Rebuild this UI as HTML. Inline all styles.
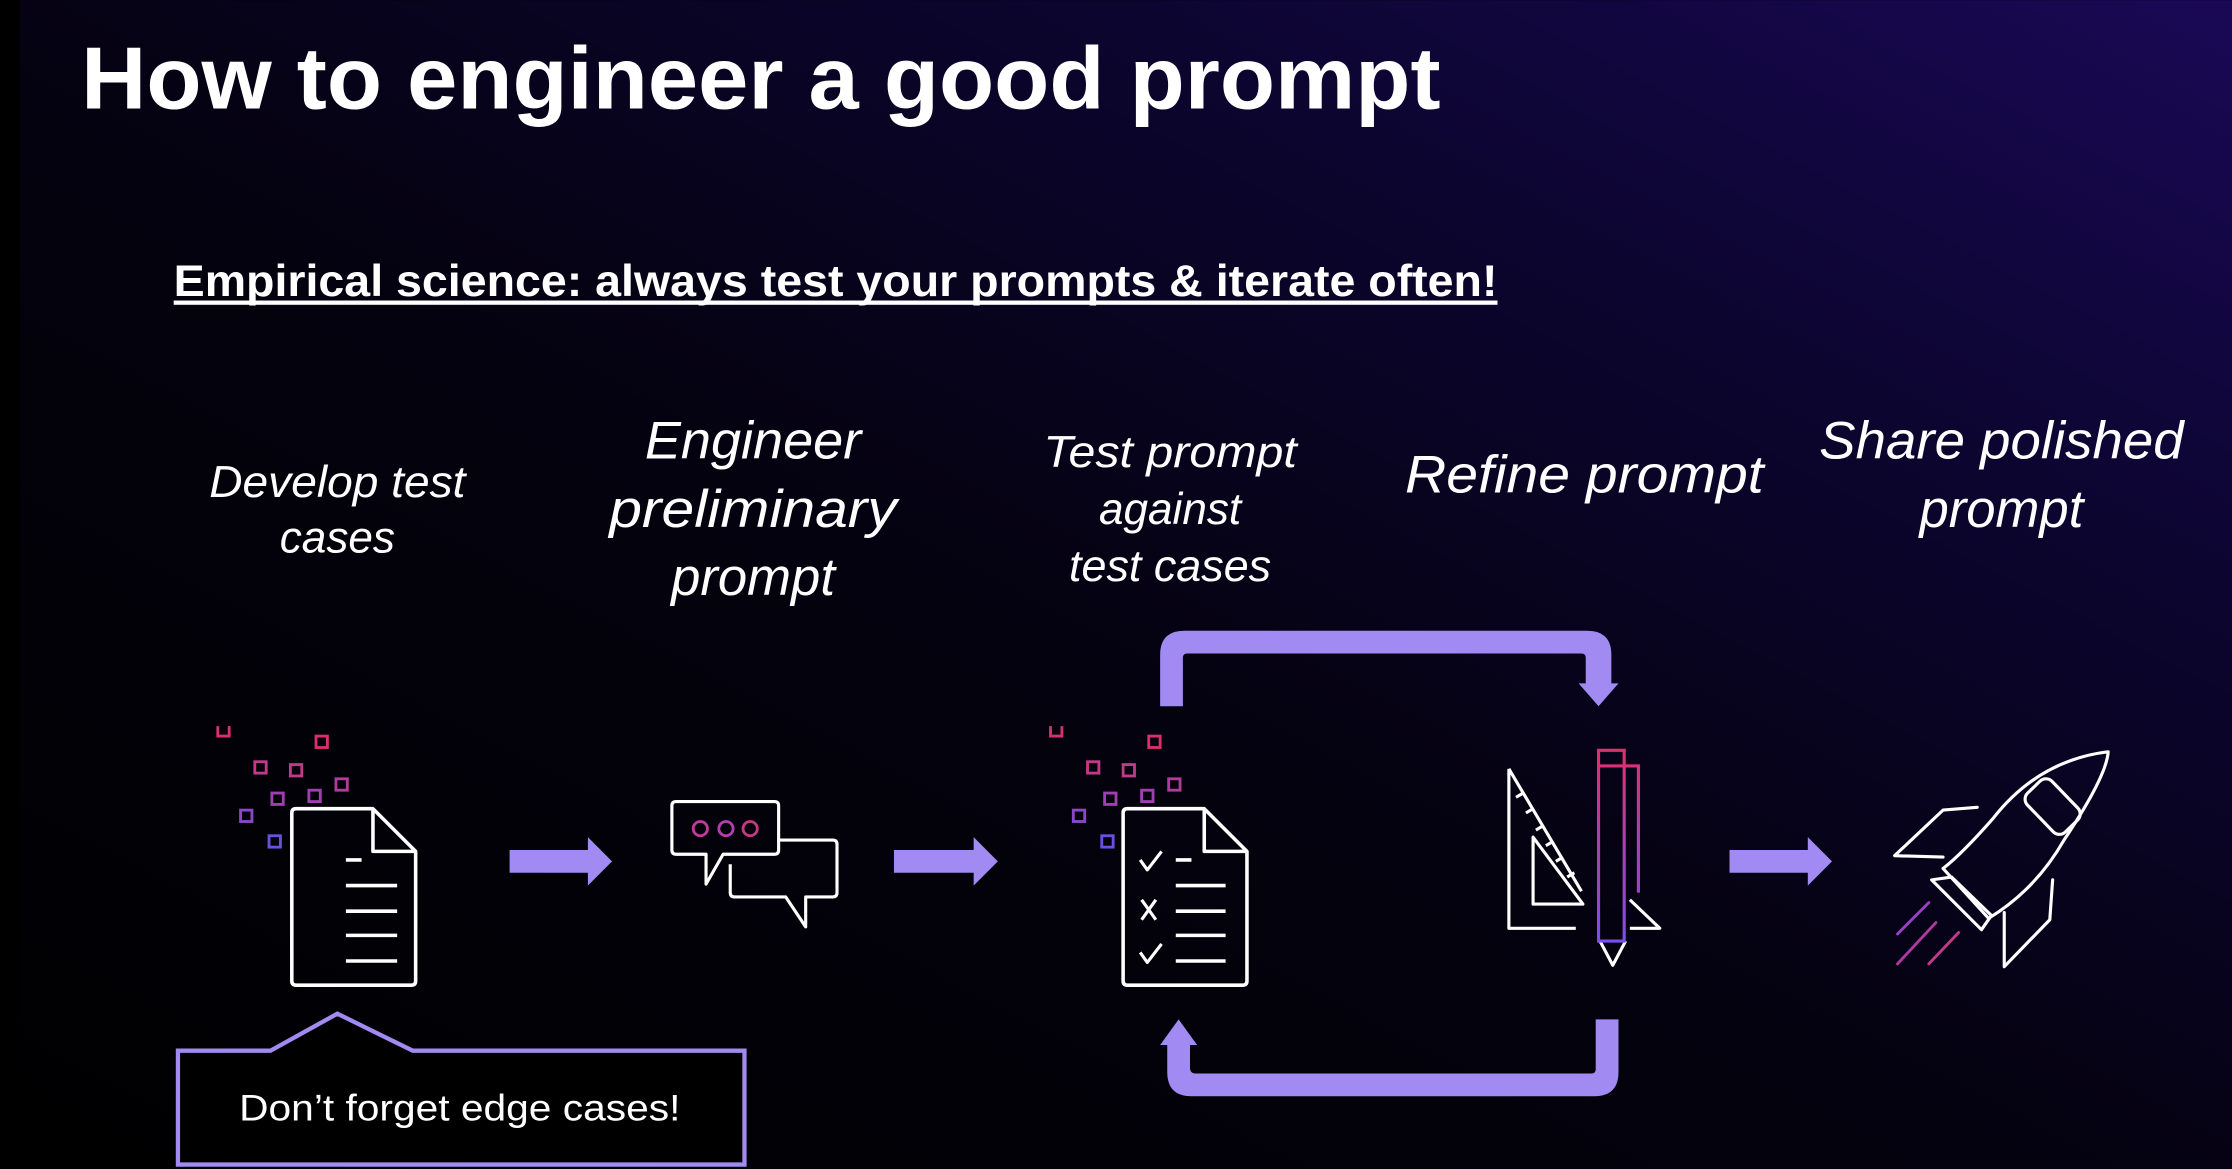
<!DOCTYPE html>
<html><head><meta charset="utf-8"><style>
html,body{margin:0;padding:0;background:#000;}
svg{display:block}
text{font-family:"Liberation Sans",sans-serif;fill:#fff}
</style></head><body>
<svg width="2232" height="1169" viewBox="0 0 1568 821" xmlns="http://www.w3.org/2000/svg">
<defs>
<linearGradient id="bg" x1="0" y1="1" x2="1" y2="0">
<stop offset="0" stop-color="#000000"/>
<stop offset="0.45" stop-color="#04020e"/>
<stop offset="0.75" stop-color="#0c0530"/>
<stop offset="1" stop-color="#1a0856"/>
</linearGradient>
<linearGradient id="pg" x1="0" y1="0" x2="0" y2="1">
<stop offset="0" stop-color="#e0306a"/><stop offset="1" stop-color="#7a4ff0"/>
</linearGradient>
</defs>
<rect width="1568" height="821" fill="url(#bg)"/>
<rect width="14" height="821" fill="#000"/>

<text x="57" y="76" font-size="62" font-weight="bold" textLength="955" lengthAdjust="spacingAndGlyphs">How to engineer a good prompt</text>
<text x="122" y="208" font-size="31" font-weight="bold" textLength="930" lengthAdjust="spacingAndGlyphs">Empirical science: always test your prompts &amp; iterate often!</text>
<rect x="122" y="211" width="930" height="3" fill="#fff"/>

<g font-style="italic" text-anchor="middle">
<text x="237" y="349" font-size="31" textLength="180" lengthAdjust="spacingAndGlyphs">Develop test</text>
<text x="237" y="388" font-size="31">cases</text>
<text x="529" y="322" font-size="37" textLength="152" lengthAdjust="spacingAndGlyphs">Engineer</text>
<text x="529" y="370" font-size="37" textLength="202" lengthAdjust="spacingAndGlyphs">preliminary</text>
<text x="529" y="418" font-size="37">prompt</text>
<text x="822" y="328" font-size="31" textLength="178" lengthAdjust="spacingAndGlyphs">Test prompt</text>
<text x="822" y="368" font-size="31">against</text>
<text x="822" y="408" font-size="31" textLength="142" lengthAdjust="spacingAndGlyphs">test cases</text>
<text x="1113" y="346" font-size="37" textLength="252" lengthAdjust="spacingAndGlyphs">Refine prompt</text>
<text x="1406" y="322" font-size="37" textLength="256" lengthAdjust="spacingAndGlyphs">Share polished</text>
<text x="1406" y="370" font-size="37">prompt</text>
</g>

<!-- squares -->
<g fill="none" stroke-width="2">
<g id="sq">
<path d="M153 510 v7 h8 v-7" stroke="#d8306a"/>
<rect x="222" y="517" width="8" height="8" stroke="#d8306a"/>
<rect x="179" y="535" width="8" height="8" stroke="#c03a88"/>
<rect x="204" y="537" width="8" height="8" stroke="#c03a88"/>
<rect x="236" y="547" width="8" height="8" stroke="#b03c9a"/>
<rect x="191" y="557" width="8" height="8" stroke="#a040b0"/>
<rect x="217" y="555" width="8" height="8" stroke="#a040b0"/>
<rect x="169" y="569" width="8" height="8" stroke="#8a48c8"/>
<rect x="189" y="587" width="8" height="8" stroke="#6a50e0"/>
</g>
<use href="#sq" transform="translate(585,0)"/>
</g>

<!-- doc 1 -->
<g fill="none" stroke="#fff" stroke-width="2.5" stroke-linejoin="round">
<path d="M208 568 H262 L292 598 V689 Q292 692 289 692 H208 Q205 692 205 689 V571 Q205 568 208 568Z"/>
<path d="M262 568 V598 H292"/>
<path d="M243 604 H254 M243 622 H279 M243 640 H279 M243 657 H279 M243 675 H279"/>
</g>
<!-- doc 2 -->
<g fill="none" stroke="#fff" stroke-width="2.5" stroke-linejoin="round">
<path d="M792 568 H846 L876 598 V689 Q876 692 873 692 H792 Q789 692 789 689 V571 Q789 568 792 568Z"/>
<path d="M846 568 V598 H876"/>
<path d="M826 604 H837 M826 622 H861 M826 640 H861 M826 657 H861 M826 675 H861"/>
<path d="M801 604 l5 7 l10 -13 M802 632 l10 14 M812 632 l-10 14 M801 669 l5 7 l10 -13" stroke-width="2.2"/>
</g>

<!-- chat -->
<g fill="none" stroke="#fff" stroke-width="2.2" stroke-linejoin="round">
<path d="M475 563 H544 Q547 563 547 566 V597 Q547 600 544 600 H508 L496 621 V600 H475 Q472 600 472 597 V566 Q472 563 475 563Z"/>
<path d="M547 590 H585 Q588 590 588 593 V627 Q588 630 585 630 H566 V651 L552 630 H516 Q513 630 513 627 V607"/>
</g>
<circle cx="492" cy="582" r="5" fill="none" stroke="#c03a9a" stroke-width="2"/>
<circle cx="510" cy="582" r="5" fill="none" stroke="#b040b0" stroke-width="2"/>
<circle cx="527" cy="582" r="5" fill="none" stroke="#c03a80" stroke-width="2"/>

<!-- straight arrows -->
<g fill="#a18af2">
<path d="M358 597 H413 V588 L430 605 L413 622 V613 H358Z"/>
<path d="M628 597 H684 V588 L701 605 L684 622 V613 H628Z"/>
<path d="M1215 597 H1270 V588 L1287 605 L1270 622 V613 H1215Z"/>
</g>

<!-- loop arrows -->
<g fill="#a18af2">
<path d="M815 496 V460 Q815 443 832 443 H1115 Q1132 443 1132 460 V480 H1137 L1123 496 L1109 480 H1114 V462 Q1114 459 1111 459 H834 Q831 459 831 462 V496Z"/>
<path d="M1137 716 V753 Q1137 770 1120 770 H837 Q820 770 820 753 V734 H815 L828 716 L841 734 H836 V750 Q836 754 840 754 H1118 Q1121 754 1121 751 V716Z"/>
</g>

<!-- ruler & pencil -->
<g fill="none" stroke="#fff" stroke-width="2.2" stroke-linejoin="round">
<path d="M1060 540 V652 H1107"/>
<path d="M1060 540 L1111 626"/>
<path d="M1077 588 V635 H1112 Z"/>
<path d="M1070 557 l-5 3 M1077 568 l-5 3 M1084 580 l-5 3 M1091 591 l-5 3 M1098 602 l-5 3 M1106 613 l-5 3"/>
<path d="M1145 632 L1166 652 H1145"/>
<path d="M1124 661 L1133 678 L1142 661"/>
</g>
<path d="M1123 527 H1141 V661 H1123 Z M1123 538 H1151 V627" fill="none" stroke="url(#pg)" stroke-width="2.2"/>

<!-- rocket -->
<g fill="none" stroke="#fff" stroke-width="2.2" stroke-linejoin="round" stroke-linecap="round">
<path d="M1481 528 Q1432 534 1400 575 Q1378 600 1365 610 L1397 645 Q1430 625 1450 590 Q1480 545 1481 528Z"/>
<rect x="1430" y="547.5" width="24" height="38" rx="6" transform="rotate(-44 1442 566.5)"/>
<path d="M1389 567 L1365 569 L1331 601 L1365 602"/>
<path d="M1442 618 L1440 646 L1408 679 V641"/>
<path d="M1357 618 L1371 616 L1399 643 L1392 653 Z"/>
</g>
<g stroke-width="2" stroke-linecap="round">
<path d="M1355 634 L1333 656" stroke="#9a40c8"/>
<path d="M1360 648 L1333 677" stroke="#b03aa0"/>
<path d="M1376 655 L1355 677" stroke="#c03a88"/>
</g>

<!-- callout -->
<path d="M125 738 H190 L237 712 L290 738 H523 V818 H125 Z" fill="#000" stroke="#a18af2" stroke-width="3"/>
<text x="323" y="787" font-size="26" text-anchor="middle" textLength="310" lengthAdjust="spacingAndGlyphs">Don’t forget edge cases!</text>
</svg>
</body></html>
